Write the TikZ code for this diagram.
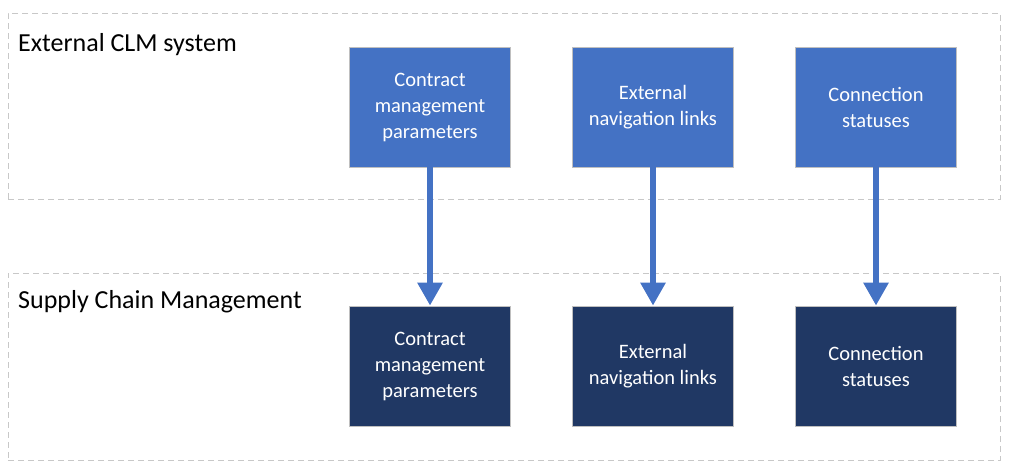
\documentclass[tikz,border=0pt]{standalone}
\usepackage{fontspec}
\setmainfont{Carlito}
\usetikzlibrary{arrows.meta}
\definecolor{topblue}{HTML}{4472C4}
\definecolor{darkblue}{HTML}{203864}
\definecolor{frame}{HTML}{C8C8C8}
\definecolor{boxedge}{HTML}{BFBFBF}
\tikzset{
  grp/.style={draw=frame, dashed, dash pattern=on 6pt off 4pt, line width=0.9pt},
  topbox/.style={fill=topblue, draw=boxedge, line width=0.8pt, minimum width=161pt, minimum height=120pt, text=white, align=center, font=\fontsize{20.5}{26}\selectfont, inner sep=0pt},
  botbox/.style={topbox, fill=darkblue},
  title/.style={anchor=west, font=\fontsize{26}{30}\selectfont, inner sep=0pt},
  flow/.style={draw=topblue, line width=6pt, -{Triangle[width=24pt,length=23pt]}, shorten >=0pt}
}
\begin{document}
\begin{tikzpicture}[x=1pt,y=-1pt]
\useasboundingbox (0,0) rectangle (1017,472);
\node[grp, minimum width=992pt, minimum height=186pt, inner sep=0pt] (g1) at (504,106) {};
\node[grp, minimum width=992pt, minimum height=187pt, inner sep=0pt] (g2) at (504,366.5) {};
\node[title] (t1) at (18,45) {External CLM system};
\node[title] (t2) at (18,302) {Supply Chain Management};
\node[topbox] (a1) at (430,107) {Contract\\management\\parameters};
\node[topbox] (a2) at (653,107) {External\\navigation links};
\node[topbox] (a3) at (876,107) {Connection\\statuses};
\node[botbox] (b1) at (430,366) {Contract\\management\\parameters};
\node[botbox] (b2) at (653,366) {External\\navigation links};
\node[botbox] (b3) at (876,366) {Connection\\statuses};
\draw[flow] (a1.south) -- (b1.north);
\draw[flow] (a2.south) -- (b2.north);
\draw[flow] (a3.south) -- (b3.north);
\end{tikzpicture}
\end{document}
